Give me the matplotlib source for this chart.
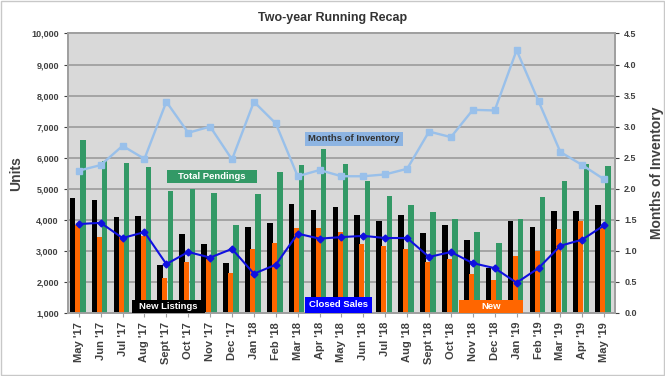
import matplotlib
matplotlib.use('Agg')
import matplotlib.pyplot as plt
from matplotlib.patches import Rectangle
from matplotlib.ticker import FuncFormatter, MultipleLocator
import numpy as np

plt.rcParams['font.family'] = ['Liberation Sans', 'DejaVu Sans']

months = ["May '17", "Jun '17", "Jul '17", "Aug '17", "Sept '17", "Oct '17", "Nov '17",
          "Dec '17", "Jan '18", "Feb '18", "Mar '18", "Apr '18", "May '18", "Jun '18",
          "Jul '18", "Aug '18", "Sept '18", "Oct '18", "Nov '18", "Dec '18", "Jan '19",
          "Feb '19", "Mar '19", "Apr '19", "May '19"]

new_listings = [4700, 4650, 4100, 4120, 2550, 3530, 3220, 2590, 3770, 3880, 4490, 4300, 4410,
                4150, 3950, 4150, 3570, 3820, 3360, 2440, 3950, 3770, 4290, 4290, 4480]
new_pendings = [3820, 3450, 3470, 3470, 2130, 2640, 2720, 2270, 3060, 3260, 3730, 3730, 3620,
                3230, 3140, 3060, 2650, 2720, 2250, 2050, 2830, 2980, 3690, 3950, 3800]
total_pendings = [6560, 5900, 5840, 5690, 4910, 4980, 4870, 3830, 4830, 5540, 5750, 6270, 5810,
                  5240, 4760, 4480, 4240, 4010, 3620, 3240, 4030, 4720, 5240, 5800, 5720]
closed_sales = [3860, 3900, 3410, 3600, 2570, 2960, 2780, 3060, 2260, 2550, 3550, 3390, 3440,
                3480, 3410, 3410, 2800, 2960, 2600, 2440, 1970, 2440, 3160, 3360, 3820]
months_inventory = [2.29, 2.38, 2.69, 2.48, 3.40, 2.90, 3.00, 2.47, 3.40, 3.05, 2.20, 2.30, 2.20,
                    2.20, 2.23, 2.32, 2.92, 2.83, 3.27, 3.26, 4.23, 3.41, 2.59, 2.38, 2.15]

x = np.arange(len(months))
grey = '#404040'

fig = plt.figure(figsize=(6.65, 3.76), dpi=100)
fig.patch.set_facecolor('white')
fig.add_artist(Rectangle((0.002, 0.003), 0.996, 0.994, transform=fig.transFigure,
                         fill=False, edgecolor='#c8c8c8', linewidth=1))

ax = fig.add_axes([0.102, 0.168, 0.823, 0.743])
ax.set_facecolor('#d9d9d9')

ax.bar(x - 0.28, [v - 1000 for v in new_listings], 0.26, bottom=1000, color='black', zorder=2)
ax.bar(x - 0.065, [v - 1000 for v in new_pendings], 0.23, bottom=1000, color='#ff6600', zorder=3)
ax.bar(x + 0.185, [v - 1000 for v in total_pendings], 0.25, bottom=1000, color='#339966', zorder=3)
ax.plot(x, closed_sales, color='#1010e0', lw=1.5, marker='D', ms=3.5, zorder=5)

ax.set_ylim(1000, 10000)
ax.set_xlim(-0.5, len(months) - 0.5)
ax.yaxis.set_major_locator(MultipleLocator(1000))
ax.yaxis.set_major_formatter(FuncFormatter(lambda v, p: f'{int(v):,}'))
ax.grid(axis='y', color='#a0a0a0', lw=1.3, zorder=0)
ax.set_axisbelow(True)
ax.set_xticks(x)
ax.set_xticklabels(months, rotation=90, fontsize=8, fontweight='bold', color=grey)
ax.tick_params(axis='y', labelsize=6.5, colors=grey, length=3)
ax.tick_params(axis='x', length=3, color='#a0a0a0')
for lab in ax.get_yticklabels():
    lab.set_fontweight('bold')
ax.set_ylabel('Units', fontsize=10, fontweight='bold', color=grey)
ax.yaxis.set_label_coords(-0.082, 0.5)
for s in ax.spines.values():
    s.set_color('#a0a0a0')
    s.set_linewidth(1.3)

ax2 = ax.twinx()
ax2.plot(x, months_inventory, color='#99c0ea', lw=1.7, marker='s', ms=4.5, zorder=4)
ax2.set_ylim(0, 4.5)
ax2.yaxis.set_major_locator(MultipleLocator(0.5))
ax2.yaxis.set_major_formatter(FuncFormatter(lambda v, p: f'{v:.1f}'))
ax2.tick_params(axis='y', labelsize=6.5, colors=grey, length=3)
for lab in ax2.get_yticklabels():
    lab.set_fontweight('bold')
ax2.set_ylabel('Months of Inventory', fontsize=10, fontweight='bold', color=grey)
ax2.yaxis.set_label_coords(1.064, 0.5)
for s in ax2.spines.values():
    s.set_color('#a0a0a0')
    s.set_linewidth(1.3)

def label_box(x0, y0, w, h, text, fc, tc):
    ax2.add_patch(Rectangle((x0, y0), w, h, transform=ax2.transAxes, facecolor=fc,
                            edgecolor='none', zorder=6, clip_on=False))
    ax2.text(x0 + w / 2, y0 + h / 2, text, transform=ax2.transAxes, ha='center', va='center',
             fontsize=6.8, fontweight='bold', color=tc, zorder=7)

label_box(0.181, 0.465, 0.165, 0.047, 'Total Pendings', '#339966', 'white')
label_box(0.433, 0.597, 0.179, 0.051, 'Months of Inventory', '#8db4e2', '#333333')
label_box(0.117, 0.0, 0.133, 0.047, 'New Listings', 'black', 'white')
label_box(0.433, 0.0, 0.123, 0.057, 'Closed Sales', '#0000ff', 'white')
label_box(0.715, 0.0, 0.117, 0.047, 'New', '#ff6600', 'white')

fig.text(0.5, 0.952, 'Two-year Running Recap', ha='center', va='center',
         fontsize=9, fontweight='bold', color='#333333')

fig.savefig('out.png', dpi=100)
